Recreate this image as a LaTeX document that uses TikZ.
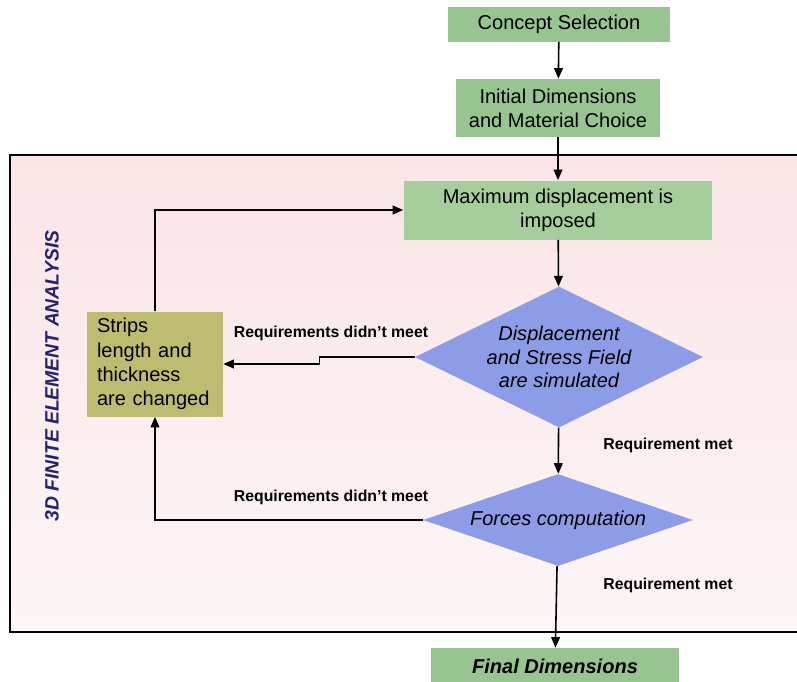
\documentclass[tikz,border=0pt]{standalone}
\usepackage{fontspec}
\setmainfont{Liberation Sans}
\usepackage{tikz}
\usetikzlibrary{shapes.geometric,arrows.meta,calc}

\definecolor{boxgreen}{RGB}{152,196,146}
\definecolor{boxgreenlt}{RGB}{166,206,156}
\definecolor{decblue}{RGB}{141,156,230}
\definecolor{olivebox}{RGB}{190,188,112}
\definecolor{framepink}{RGB}{250,228,230}
\definecolor{labelblue}{RGB}{34,34,110}

\tikzset{
  greenbox/.style = {fill=boxgreen, inner sep=0pt, align=center, font=\fontsize{11.4}{13.6}\selectfont},
  decision/.style = {diamond, fill=decblue, inner sep=0pt, align=center, font=\fontsize{11.4}{13.2}\selectfont\itshape},
  flow/.style = {line width=0.9pt, -{Triangle[length=6pt,width=5pt]}},
  reqlabel/.style = {font=\fontsize{9}{11}\selectfont\bfseries},
}

\begin{document}
\begin{tikzpicture}[x=0.02cm, y=-0.02cm]

\useasboundingbox (0,0) rectangle (797,681);

% analysis frame
\shade[top color=framepink, middle color=framepink, bottom color=framepink!35!white] (10,155) rectangle (812,632);
\draw[line width=1.1pt] (812,155) -- (10,155) -- (10,632) -- (812,632);

\node[rotate=90, text=labelblue, font=\fontsize{11}{13}\selectfont\bfseries\itshape] (fea) at (52,376) {3D FINITE ELEMENT ANALYSIS};

%%%%%%%%%%%%%%%%%%%%%%%%%%%%%%%%

\node[greenbox, minimum width=4.46cm, minimum height=0.7cm] (concept) at (559,24) {Concept Selection};
\node[greenbox, minimum width=4.1cm, minimum height=1.16cm] (initial) at (558,108) {Initial Dimensions\\and Material Choice};
\node[greenbox, fill=boxgreenlt, minimum width=6.18cm, minimum height=1.18cm] (maxdisp) at (558,210) {Maximum displacement is\\imposed};

\node[decision, aspect=2.05, minimum width=5.76cm, minimum height=2.82cm] (simul) at (559,357) {Displacement\\and Stress Field\\are simulated};
\node[decision, aspect=2.93, minimum width=5.4cm, minimum height=1.84cm] (forces) at (558,520) {Forces computation};

\node[fill=olivebox, inner xsep=0.2cm, inner ysep=0pt, text width=2.32cm, minimum height=2.1cm, align=left, font=\fontsize{11.4}{13.8}\selectfont] (strips) at (155,364) {Strips\\length and\\thickness\\are changed};

\node[greenbox, minimum width=4.98cm, minimum height=0.72cm, font=\fontsize{11.4}{13.6}\selectfont\bfseries\itshape] (final) at (555,666) {Final Dimensions};

%%%%%%%%%%%%%%%%%%%%%%%%%%%%%%%%

\draw[flow] (concept) -- (initial);
\draw[flow] (initial) -- (maxdisp);
\draw[flow] (maxdisp) -- (simul);
\draw[flow] (simul) -- (forces);
\draw[flow] (forces) -- (final);

\draw[flow] (simul.west) -- ++(-95,0) |- (strips.east);
\draw[flow] (forces.west) -| (strips.south);
\draw[flow] (strips.north) |- (maxdisp.west);

\node[reqlabel] (nomeet1) at (331,333) {Requirements didn't meet};
\node[reqlabel] (nomeet2) at (331,497) {Requirements didn't meet};
\node[reqlabel] (met1) at (668,445) {Requirement met};
\node[reqlabel] (met2) at (668,585) {Requirement met};

\end{tikzpicture}
\end{document}
